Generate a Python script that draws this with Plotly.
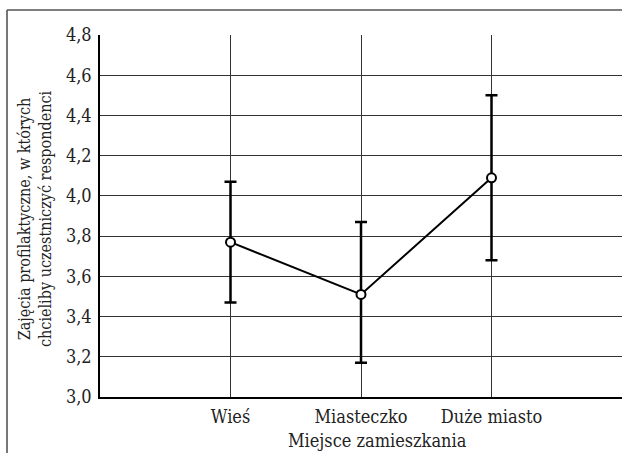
import plotly.graph_objects as go

categories = ["Wieś", "Miasteczko", "Duże miasto"]
means = [3.77, 3.51, 4.09]
upper = [4.07, 3.87, 4.50]
lower = [3.47, 3.17, 3.68]
y_ticks = [3.0, 3.2, 3.4, 3.6, 3.8, 4.0, 4.2, 4.4, 4.6, 4.8]
y_tick_labels = ["3,0", "3,2", "3,4", "3,6", "3,8", "4,0", "4,2", "4,4", "4,6", "4,8"]
x_title = "Miejsce zamieszkania"
y_title = "Zajęcia profilaktyczne, w których<br>chcieliby uczestniczyć respondenci"

FONT = "DejaVu Serif Condensed, DejaVu Serif, serif"

err_plus = [u - m for u, m in zip(upper, means)]
err_minus = [m - l for m, l in zip(means, lower)]
xs = list(range(len(categories)))

fig = go.Figure()
fig.add_trace(go.Scatter(
    x=xs, y=means, mode="lines+markers",
    line=dict(color="black", width=2),
    marker=dict(symbol="circle", size=9, color="white",
                line=dict(color="black", width=2)),
    error_y=dict(type="data", symmetric=False, array=err_plus,
                 arrayminus=err_minus, color="black", thickness=2.5, width=6),
    showlegend=False,
))

fig.update_layout(
    width=622, height=453,
    margin=dict(l=100, r=0, t=35, b=56),
    paper_bgcolor="white", plot_bgcolor="white",
    font=dict(family=FONT, size=18, color="#222"),
    xaxis=dict(
        range=[-1, 3], tickmode="array", tickvals=xs, ticktext=categories,
        showgrid=True, gridcolor="#333", gridwidth=1,
        showline=True, linecolor="black", linewidth=1.5,
        ticks="", zeroline=False, ticklabelstandoff=3,
        tickfont=dict(family=FONT, size=18),
    ),
    yaxis=dict(
        range=[3.0, 4.8], tickmode="array", tickvals=y_ticks, ticktext=y_tick_labels,
        showgrid=True, gridcolor="#333", gridwidth=1,
        showline=True, linecolor="black", linewidth=1.5,
        ticks="", zeroline=False, ticklabelstandoff=3,
        tickfont=dict(family=FONT, size=18),
    ),
    annotations=[
        dict(text=y_title, textangle=-90,
             xref="paper", yref="paper", x=0, y=0.5, xanchor="center", yanchor="middle",
             xshift=-65, yshift=-3, showarrow=False,
             font=dict(family=FONT, size=16)),
        dict(text=x_title,
             xref="paper", yref="paper", x=(377 - 100) / 522, y=0,
             xanchor="center", yanchor="middle", yshift=-43, showarrow=False,
             font=dict(family=FONT, size=18)),
    ],
    shapes=[
        dict(type="line", xref="paper", yref="paper",
             x0=-93 / 522, x1=-93 / 522, y0=1 + 25 / 362, y1=-0.2,
             line=dict(color="#777", width=2)),
        dict(type="line", xref="paper", yref="paper",
             x0=-93 / 522, x1=1.01, y0=1 + 25 / 362, y1=1 + 25 / 362,
             line=dict(color="#555", width=1.5)),
    ],
)

fig.write_html("out.html")
